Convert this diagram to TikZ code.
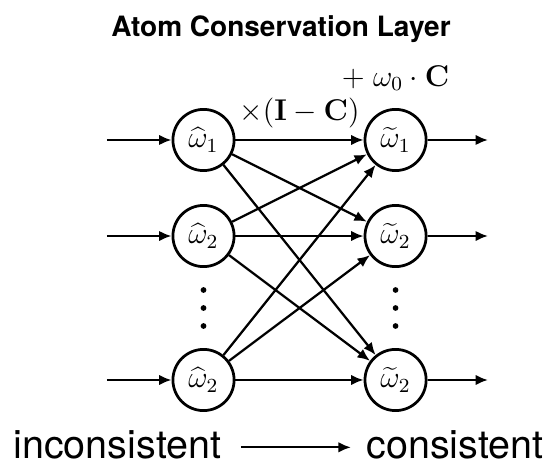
\documentclass[tikz,border=0pt]{standalone}
\usepackage[no-math]{fontspec}
\newfontfamily\heros{TeX Gyre Heros}
\usetikzlibrary{positioning,arrows.meta}

\begin{document}
\begin{tikzpicture}[
      neuron/.style={draw, circle, line width=1.1pt, minimum size=0.86cm, inner sep=0pt,
                  font=\fontsize{12}{14}\selectfont},
      lbl/.style={font=\fontsize{11.5}{13}\selectfont},
      side/.style={font=\heros\fontsize{15.8}{18}\selectfont, inner sep=0pt},
      arr/.style={-{Latex[length=5pt,width=4.2pt]}, line width=0.9pt},
      dot/.style={circle, fill, inner sep=0pt, minimum size=2.3pt},
      node distance=1.35cm and 2.7cm, on grid]
    \useasboundingbox (-2.861,-4.513) rectangle (4.899,1.968);
    \node[font=\heros\bfseries\fontsize{11.2}{13}\selectfont, anchor=base] (title) at (1.09,1.448)
      {Atom Conservation Layer};
    % the two layers
    \node[neuron] (l1) {$\widehat{\omega}_1$};
    \node[neuron, below=of l1] (l2) {$\widehat{\omega}_2$};
    \node[neuron, below=2.024cm of l2] (l3) {$\widehat{\omega}_2$};
    \node[neuron, right=of l1] (r1) {$\widetilde{\omega}_1$};
    \node[neuron, right=of l2] (r2) {$\widetilde{\omega}_2$};
    \node[neuron, right=of l3] (r3) {$\widetilde{\omega}_2$};
    \foreach \c in {l2,r2}
      \foreach \k/\d in {1/0.759,2/1.012,3/1.265}
        \node[dot, below=\d cm of \c] (\c-dot\k) {};
    % inputs and outputs
    \foreach \n in {1,2,3} {
      \coordinate[left=1.357cm of l\n] (in\n);
      \coordinate[right=1.30cm of r\n] (out\n);
      \draw[arr] (in\n) -- (l\n);
      \draw[arr] (r\n) -- (out\n);
    }
    % all to all
    \foreach \i in {1,2,3}
      \foreach \j in {1,2,3}
        \draw[arr] (l\i) -- (r\j);
    \path (l1) -- node[lbl, yshift=0.38cm] (mult) {$\times(\mathbf{I}-\mathbf{C})$} (r1);
    \node[lbl, above=0.87cm of r1] (bias) {$+\;\omega_0\cdot\mathbf{C}$};
    % bottom line
    \node[side, anchor=base west] (incons) at (-2.678,-4.475) {inconsistent};
    \node[side, anchor=base east] (cons) at (4.787,-4.475) {consistent};
    \draw[arr, shorten <=7.6pt, shorten >=6pt] ([yshift=4.4pt]incons.base east)
      -- ([yshift=4.4pt]cons.base west);
  \end{tikzpicture}
\end{document}
